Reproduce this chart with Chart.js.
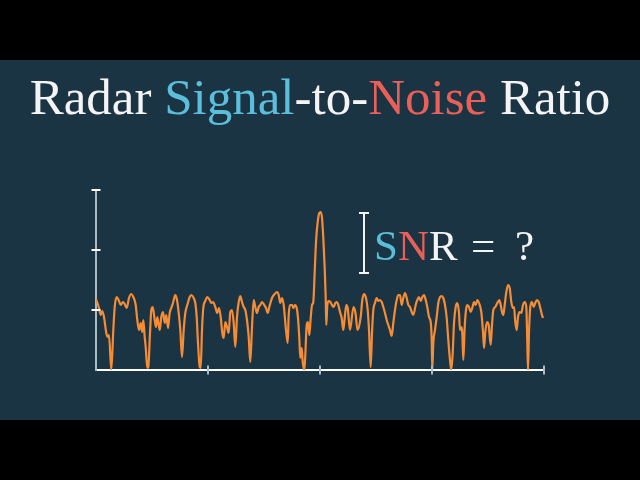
<!DOCTYPE html>
<html><head><meta charset="utf-8">
<script src="https://cdn.jsdelivr.net/npm/chart.js@4/dist/chart.umd.min.js"></script>
<style>
html,body{margin:0;padding:0;background:#000;}
#wrap{position:relative;width:640px;height:480px;background:#000;overflow:hidden}
#panel{position:absolute;left:0;top:60px;width:640px;height:360px;background:#1b3444}
#c{position:absolute;left:0;top:0}
.t{position:absolute;font-family:"Liberation Serif","DejaVu Serif","Noto Serif","Noto Serif CJK SC","Times New Roman",Times,serif;line-height:1;color:#f4f4f4;white-space:pre}
.b{color:#5bbfdb}.r{color:#ea5f57}
#title{left:0;width:640px;text-align:center;top:72px;font-size:51px}
#snr{left:374px;top:224px;font-size:43px}
#eq{left:471px;top:224px;font-size:43px}
#q{left:515px;top:224px;font-size:43px}
</style></head><body>
<div id="wrap">
<div id="panel"></div>
<canvas id="c" width="640" height="480"></canvas>
<div class="t" id="title">Radar <span class="b">Signal</span>-to-<span class="r">Noise</span> Ratio</div>
<div class="t" id="snr"><span class="b">S</span><span class="r">N</span>R</div>
<div class="t" id="eq">=</div>
<div class="t" id="q">?</div>
</div>
<script>
// range bins (x) and received power (y)
const rangeBins = [0,3,4.7,6.3,8,10.3,12,13,15.3,17.3,18.7,20.7,23,24.7,27,28.7,30.7,33,35.3,37.3,39.7,41.3,43,44.7,46.3,47.3,48.7,49.7,51.3,52.3,54,55.3,56.7,58.7,60,61.3,63.7,65.3,67,68.7,70.3,72,73.7,75.3,77,79.3,81,82.7,84.3,86,87.7,89.3,91.3,93.7,95.3,97.7,99.3,100.7,102,103.7,104.7,106,107.3,109.3,111.3,113.7,115.3,117,119.3,121.3,123,124.7,126.3,127.7,129.3,131,132.7,134.3,136,137.7,139.3,141,142.7,144.3,146,147.7,149.3,151,152.7,154.3,156,157.7,159.3,161,162.7,164.3,166,168.3,170,171.7,173.3,176,178.7,181,182.7,184.3,186,187.7,190,191.7,192.7,194,196,197.3,199,200.7,202,203.3,204.3,205.7,206.7,208.3,209.3,210.7,212,213.3,214.7,216,217.3,218.7,220,221.7,223.3,224.7,226,227.3,228.7,229.7,230.3,231.3,232.7,234.3,236,237.7,239.3,240.7,242.3,244,245.7,247.3,249,250.3,251.7,254,257.5,259.5,261.5,264.7,266.3,268,270,271.7,273,274.7,276,277.3,279,280.7,282.3,284,285.7,287.3,289,290.7,292.3,294,295.7,297.3,299,300.7,302.3,304,305.7,307.3,309,310.7,312.3,314,315.7,317.3,319.7,321.3,323,324.7,326.3,328,329.7,331.3,333,334.7,335.7,336.3,337.3,339,340.7,342.3,344,345.7,347.3,349,350.7,352.3,354,355.3,356.7,358,359.7,361.3,363,364,365.3,366.3,367.3,368.7,370,371.3,373,374.7,376.3,378,379.7,381.3,383,385.3,387,388,389.3,391,392.7,394.7,396,397.3,399.3,401.3,403.3,404.7,406,407.3,408.7,410.3,412,413.7,415.3,417,418,419.3,420.7,422,423.7,425.3,427,428.7,430.3,431.3,432,433,434.3,436,437.7,439.3,441,442.7,444.3,446,447];
const power = [71,62,55,59,53,37,33,35,0,40,63,73,69,65,68,66,62,72,76,73,65,50,40,47,38,50,33,23,2,3,37,60,63,50,43,53,40,53,58,47,55,42,57,62,67,75,70,57,40,13,40,57,65,73,75,72,67,53,27,3,2,40,62,69,73,70,67,68,63,57,62,53,37,32,48,43,37,58,60,47,23,53,68,74,68,63,60,50,33,8,43,70,63,57,63,65,68,65,62,57,63,72,76,78,75,67,72,65,40,27,55,65,65,62,65,62,52,32,12,22,8,0,15,45,48,35,52,65,68,98,128,148,157,158,152,132,102,72,45,65,69,68,65,63,67,68,65,58,52,40,55,65,62,40,63,57,40,53,70,76,72,60,40,3,37,60,67,72,69,70,68,63,57,50,45,40,34,47,60,70,75,75,65,72,77,72,65,63,58,55,65,70,73,69,73,75,70,63,53,48,30,0,27,40,53,67,73,74,72,65,52,30,10,0,17,47,63,67,57,40,43,37,10,43,60,65,63,58,62,68,65,70,67,58,38,22,38,48,45,25,45,60,63,67,70,65,58,55,65,78,85,82,68,62,63,48,40,53,58,57,65,68,63,28,0,38,63,68,63,67,70,68,62,55,52];
// axis extents and tick values
const xMax = 448, yMax = 180;
const xTicks = [112, 224, 336, 448];
const yTicks = [60, 120, 180];
// SNR bracket (in data units)
const bracketAt = 268, bracketTop = 157, bracketBottom = 97;

const overlay = {
  id: 'overlay',
  afterDraw(chart) {
    const {ctx, chartArea, scales: {x, y}} = chart;
    ctx.save();
    ctx.lineWidth = 2;
    ctx.lineCap = 'butt';
    ctx.strokeStyle = '#ffffff';
    yTicks.forEach(v => {
      const py = Math.round(y.getPixelForValue(v));
      ctx.beginPath(); ctx.moveTo(chartArea.left - 4.5, py); ctx.lineTo(chartArea.left + 4.5, py); ctx.stroke();
    });
    ctx.strokeStyle = '#a9bac2';
    xTicks.forEach(v => {
      const px = Math.round(x.getPixelForValue(v));
      ctx.beginPath(); ctx.moveTo(px, chartArea.bottom - 4.5); ctx.lineTo(px, chartArea.bottom + 4.5); ctx.stroke();
    });
    // bracket
    ctx.strokeStyle = '#f4f4f4';
    const bx = Math.round(x.getPixelForValue(bracketAt));
    const t = Math.round(y.getPixelForValue(bracketTop));
    const b = Math.round(y.getPixelForValue(bracketBottom));
    ctx.beginPath();
    ctx.moveTo(bx, t); ctx.lineTo(bx, b);
    ctx.moveTo(bx - 5, t); ctx.lineTo(bx + 5, t);
    ctx.moveTo(bx - 5, b); ctx.lineTo(bx + 5, b);
    ctx.stroke();
    ctx.restore();
  }
};

new Chart(document.getElementById('c'), {
  type: 'line',
  data: {
    datasets: [{
      data: rangeBins.map((r, i) => ({x: r, y: power[i]})),
      borderColor: '#f68d35',
      borderWidth: 2.2,
      pointRadius: 0,
      cubicInterpolationMode: 'monotone',
      fill: false
    }]
  },
  options: {
    responsive: false,
    animation: false,
    devicePixelRatio: 1,
    layout: {padding: {left: 96, right: 96, top: 190, bottom: 110}},
    plugins: {legend: {display: false}, tooltip: {enabled: false}},
    scales: {
      x: {
        type: 'linear', min: 0, max: xMax,
        ticks: {display: false, stepSize: 112},
        grid: {display: false},
        border: {display: true, color: '#ffffff', width: 2},
        afterFit(s) { s.height = 0; }
      },
      y: {
        min: 0, max: yMax,
        ticks: {display: false, stepSize: 60},
        grid: {display: false},
        border: {display: true, color: '#a9bac2', width: 2},
        afterFit(s) { s.width = 0; }
      }
    }
  },
  plugins: [overlay]
});
</script>
</body></html>
